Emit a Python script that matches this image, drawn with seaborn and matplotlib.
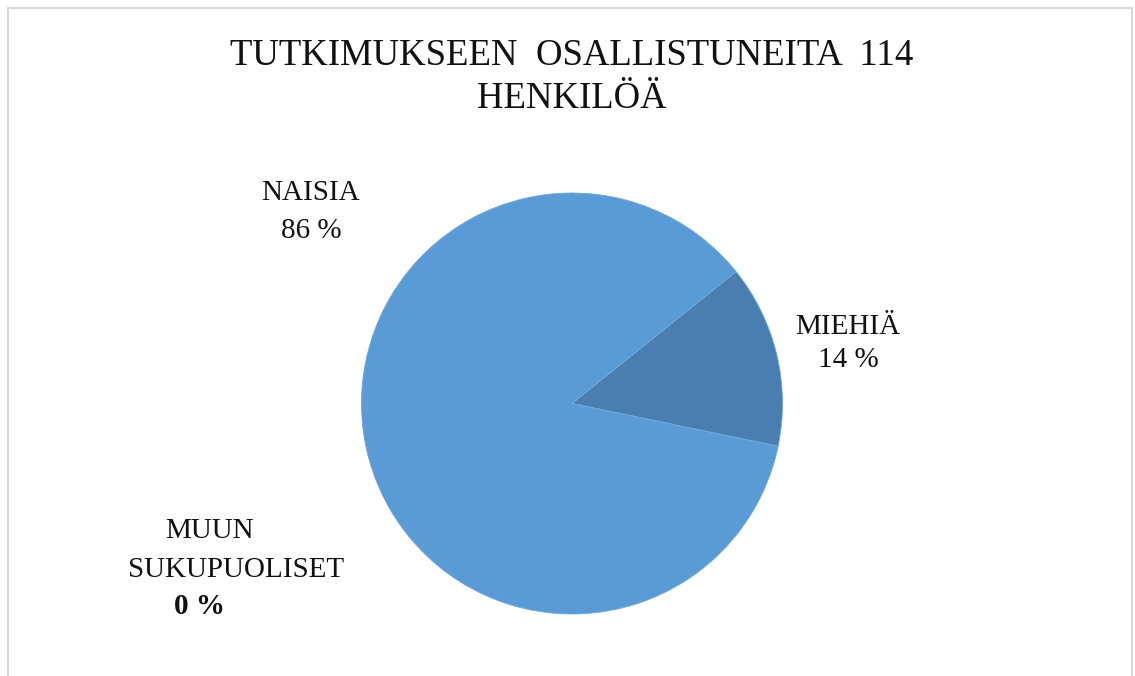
import matplotlib
matplotlib.use('Agg')
import matplotlib.pyplot as plt
import seaborn as sns
from matplotlib.patches import Rectangle

# data (114 vastaajaa)
categories = ['MIEHIÄ', 'MUUN SUKUPUOLISET', 'NAISIA']
counts = [16, 0, 98]
percent_labels = ['14 %', '0 %', '86 %']
colors = ['#4a7eb0', '#5b9bd5', '#5b9bd5']

sns.set_style('white')
plt.rcParams['font.family'] = ['Liberation Serif', 'DejaVu Serif']

fig = plt.figure(figsize=(11.35, 6.76), dpi=100)

# chart border
fig.patches.append(Rectangle((8 / 1135, -0.01), 1124 / 1135, 1 - 8 / 676 + 0.01,
                             transform=fig.transFigure, fill=False,
                             edgecolor='#d9d9d9', linewidth=1.5))

ax = fig.add_axes([361 / 1135, 1 - 614 / 676, 422 / 1135, 421 / 676])
ax.pie(counts, colors=colors, startangle=38.8, counterclock=False, radius=1,
       wedgeprops={'linewidth': 0.6, 'edgecolor': '#6fa8dc'})
ax.set_xlim(-1, 1)
ax.set_ylim(-1, 1)
ax.set_aspect('equal')
ax.axis('off')

tc = '#111111'
fig.text(572 / 1135, 1 - 56 / 676, 'TUTKIMUKSEEN  OSALLISTUNEITA  114',
         ha='center', va='center', fontsize=26.5, color=tc)
fig.text(572 / 1135, 1 - 99 / 676, 'HENKILÖÄ',
         ha='center', va='center', fontsize=26.5, color=tc)

fs = 21
fig.text(311 / 1135, 1 - 193 / 676, categories[2], ha='center', va='center', fontsize=fs, color=tc)
fig.text(311 / 1135, 1 - 231 / 676, percent_labels[2], ha='center', va='center', fontsize=fs, color=tc)

fig.text(848 / 1135, 1 - 327 / 676, categories[0], ha='center', va='center', fontsize=fs, color=tc)
fig.text(848 / 1135, 1 - 360 / 676, percent_labels[0], ha='center', va='center', fontsize=fs, color=tc)

muun, suku = categories[1].split(' ')
fig.text(210 / 1135, 1 - 531 / 676, muun, ha='center', va='center', fontsize=fs, color=tc)
fig.text(236 / 1135, 1 - 570 / 676, suku, ha='center', va='center', fontsize=fs, color=tc)
fig.text(200 / 1135, 1 - 606 / 676, percent_labels[1], ha='center', va='center',
         fontsize=fs, fontweight='bold', color=tc)

fig.savefig('out.png', dpi=100)
